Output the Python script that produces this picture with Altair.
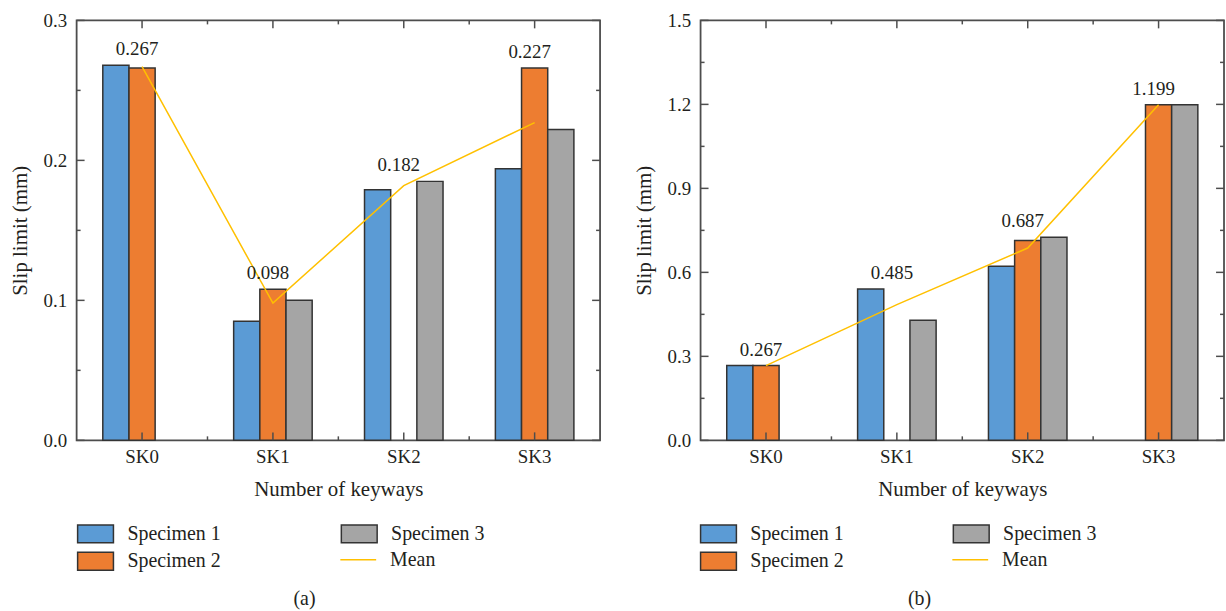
import altair as alt
import pandas as pd

# ---- data -------------------------------------------------------------
categories = ["SK0", "SK1", "SK2", "SK3"]
series = ["Specimen 1", "Specimen 2", "Specimen 3"]

# panel (a)
a_spec1 = [0.268, 0.085, 0.179, 0.194]
a_spec2 = [0.266, 0.108, None, 0.266]
a_spec3 = [None, 0.100, 0.185, 0.222]
a_mean = [0.267, 0.098, 0.182, 0.227]
a_major = [0.0, 0.1, 0.2, 0.3]
a_minor = [0.05, 0.15, 0.25]

# panel (b)
b_spec1 = [0.267, 0.541, 0.622, None]
b_spec2 = [0.267, None, 0.714, 1.199]
b_spec3 = [None, 0.429, 0.725, 1.199]
b_mean = [0.267, 0.485, 0.687, 1.199]
b_major = [0.0, 0.3, 0.6, 0.9, 1.2, 1.5]
b_minor = [0.15, 0.45, 0.75, 1.05, 1.35]

# ---- styling ----------------------------------------------------------
FONT = "Liberation Serif"
TEXT = "#231F20"
FRAME = "#4D4D4D"
series_colors = ["#5B9BD5", "#ED7D31", "#A5A5A5"]
MEAN_COLOR = "#FFC000"
W, H = 526, 422
RECT = "M-2,-1H2V1H-2Z"
LINE = "M-2,0H2"


def panel(specs, means, ymax, major, minor, tag, leg_x, col_step, title_dx):
    rows = []
    for s, vals in zip(series, specs):
        for c, v in zip(categories, vals):
            if v is not None:
                rows.append({"cat": c, "series": s, "value": v})
    bars_df = pd.DataFrame(rows)

    top = bars_df.groupby("cat")["value"].max()
    mean_df = pd.DataFrame({"cat": categories, "mean": means,
                            "top": [top[c] for c in categories],
                            "name": ["Mean"] * len(categories)})

    xscale = alt.Scale(domain=categories, paddingInner=0, paddingOuter=0)
    yscale = alt.Scale(domain=[0, ymax], nice=False, zero=True)
    x_axis = alt.Axis(title="Number of keyways", labelAngle=0, ticks=False,
                      tickSize=0, domain=False, labelPadding=7,
                      labelFont=FONT, labelFontSize=19, labelColor=TEXT,
                      titleFont=FONT, titleFontSize=21, titleFontWeight="normal",
                      titleColor=TEXT, titlePadding=12)
    y_axis = alt.Axis(title="Slip limit (mm)", values=major, format=".1f",
                      ticks=False, tickSize=0, domain=False, grid=False,
                      labelPadding=10, labelFont=FONT, labelFontSize=19,
                      labelColor=TEXT, titleFont=FONT, titleFontSize=21,
                      titleFontWeight="normal", titleColor=TEXT, titlePadding=13)

    common = dict(title=None, orient="none", padding=0, symbolSize=324,
                  symbolStrokeWidth=1.5, labelFont=FONT, labelFontSize=20,
                  labelColor=TEXT, labelOffset=22, labelLimit=0)

    # legend entries fill column by column: Specimen 1, 2 | Specimen 3, Mean
    bar_legend = alt.Legend(legendX=leg_x, legendY=506, columns=2,
                            columnPadding=col_step - 146, rowPadding=3.5,
                            symbolType=RECT, symbolStrokeColor="#333333",
                            symbolOpacity=1, **common)
    mean_legend = alt.Legend(legendX=leg_x + col_step, legendY=532,
                             symbolType=LINE, **common)

    bars = alt.Chart(bars_df).mark_bar(stroke="#333333", strokeWidth=1.5).encode(
        x=alt.X("cat:N", scale=xscale, axis=x_axis),
        xOffset=alt.XOffset("series:N", sort=series,
                            scale=alt.Scale(domain=series, paddingInner=0, paddingOuter=1)),
        y=alt.Y("value:Q", scale=yscale, axis=y_axis),
        color=alt.Color("series:N",
                        scale=alt.Scale(domain=series, range=series_colors),
                        legend=bar_legend),
    )

    line = alt.Chart(mean_df).mark_line(strokeWidth=1.5).encode(
        x=alt.X("cat:N", scale=xscale),
        y=alt.Y("mean:Q", scale=yscale),
        stroke=alt.Stroke("name:N", scale=alt.Scale(domain=["Mean"], range=[MEAN_COLOR]),
                          legend=mean_legend),
    )

    labels = alt.Chart(mean_df).mark_text(
        font=FONT, fontSize=19, color=TEXT, dy=-10, dx=-5, baseline="alphabetic"
    ).encode(
        x=alt.X("cat:N", scale=xscale),
        y=alt.Y("top:Q", scale=yscale),
        text=alt.Text("mean:Q", format=".3f"),
    )

    # inward tick marks on all four sides of the frame
    ymaj = pd.DataFrame({"v": major})
    ymin = pd.DataFrame({"v": minor})
    xcen = pd.DataFrame({"cat": categories})
    xbnd = pd.DataFrame({"cat": categories[1:]})

    def yt(df, x0, x1):
        return alt.Chart(df).mark_rule(color=FRAME, strokeWidth=1.5).encode(
            y=alt.Y("v:Q", scale=yscale), x=alt.value(x0), x2=alt.value(x1))

    def xt(df, y0, y1, bp):
        return alt.Chart(df).mark_rule(color=FRAME, strokeWidth=1.5).encode(
            x=alt.X("cat:N", scale=xscale, bandPosition=bp),
            y=alt.value(y0), y2=alt.value(y1))

    ticks = [
        yt(ymaj, 0, 8), yt(ymin, 0, 4), yt(ymaj, W, W - 8), yt(ymin, W, W - 4),
        xt(xcen, H, H - 8, 0.5), xt(xbnd, H, H - 4, 0),
        xt(xcen, 0, 8, 0.5), xt(xbnd, 0, 4, 0),
    ]

    return alt.layer(bars, line, labels, *ticks).properties(
        width=W, height=H,
        title=alt.TitleParams(tag, orient="bottom", font=FONT, fontSize=20,
                              fontWeight="normal", color=TEXT, dx=title_dx,
                              offset=15),
    )


left = panel([a_spec1, a_spec2, a_spec3], a_mean, 0.3, a_major, a_minor,
             "(a)", 9, 264, -34)
right = panel([b_spec1, b_spec2, b_spec3], b_mean, 1.5, b_major, b_minor,
              "(b)", 8, 253, -43)

chart = alt.hconcat(left, right, spacing=30).resolve_scale(
    x="independent", y="independent", color="independent",
    stroke="independent", xOffset="independent"
).resolve_legend(color="independent", stroke="independent").properties(
    padding={"left": 8, "top": 9, "right": 0, "bottom": 0},
    background="white",
).configure_view(stroke=FRAME, strokeWidth=1.8)

chart.save("out.html", embed_options={"renderer": "svg", "actions": False})
